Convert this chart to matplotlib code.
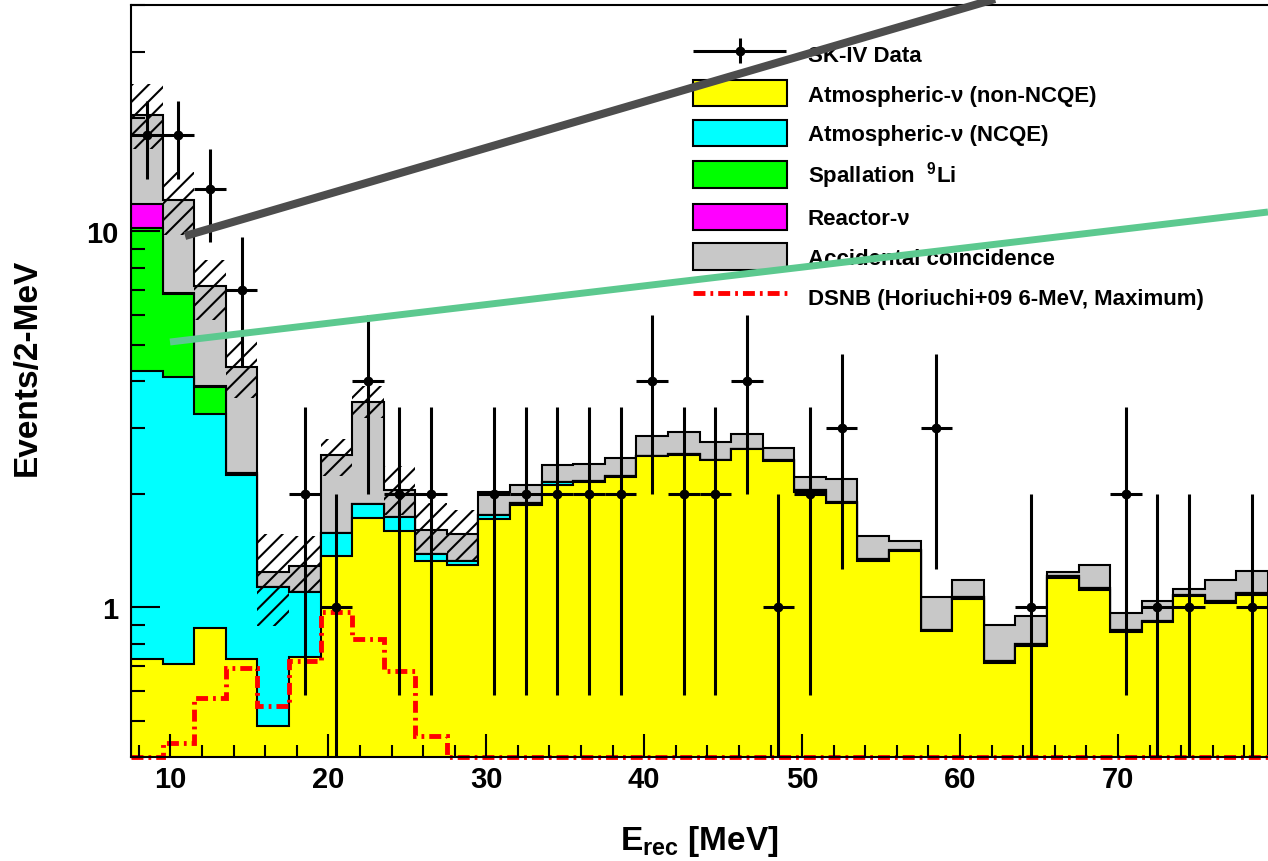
import matplotlib
matplotlib.use("Agg")
import matplotlib.pyplot as plt
import numpy as np
from matplotlib.patches import Patch
from matplotlib.lines import Line2D
from matplotlib.legend_handler import HandlerErrorbar
from matplotlib.ticker import MultipleLocator, LogLocator, NullFormatter, FormatStrFormatter

plt.rcParams['font.family'] = ['Liberation Sans', 'DejaVu Sans']
plt.rcParams['font.weight'] = 'bold'
plt.rcParams['axes.labelweight'] = 'bold'
plt.rcParams['mathtext.fontset'] = 'custom'
plt.rcParams['mathtext.rm'] = 'Liberation Sans:bold'
plt.rcParams['mathtext.it'] = 'Liberation Sans:bold'
plt.rcParams['mathtext.bf'] = 'Liberation Sans:bold'
plt.rcParams['mathtext.default'] = 'rm'
plt.rcParams['hatch.linewidth'] = 1.5
plt.rcParams['lines.scale_dashes'] = False

# 2-MeV bins from 7.5 to 79.5 MeV
bin_edges = np.arange(7.5, 79.6, 2.0)
bin_centers = 0.5 * (bin_edges[:-1] + bin_edges[1:])

# background components (events / bin), bottom of the stack first
atm_non_ncqe = np.array([0.73, 0.705, 0.88, 0.73, 0.483, 0.74, 1.37, 1.73, 1.60, 1.33, 1.30, 1.72,
                         1.87, 2.12, 2.16, 2.22, 2.52, 2.55, 2.46, 2.63, 2.45, 2.03, 1.90, 1.33,
                         1.41, 0.863, 1.05, 0.71, 0.79, 1.20, 1.11, 0.858, 0.912, 1.07, 1.03, 1.08])
atm_ncqe = np.array([3.51, 3.39, 2.38, 1.52, 0.65, 0.36, 0.21, 0.15, 0.14, 0.06, 0.03, 0.04,
                     0.03, 0.04, 0.01, 0.02, 0.01, 0.01, 0.01, 0.01, 0.01, 0.02, 0.01, 0.015,
                     0.01, 0.01, 0.015, 0.01, 0.01, 0.01, 0.015, 0.01, 0.01, 0.01, 0.01, 0.01])
spallation_li9 = np.array([5.96, 2.71, 0.60, 0.03] + [0.0] * 32)
reactor_nu = np.array([1.6, 0.05, 0.02] + [0.0] * 33)
accidental = np.array([8.6, 5.25, 3.26, 2.09, 0.11, 0.19, 0.96, 1.63, 0.31, 0.22, 0.24, 0.27,
                       0.21, 0.23, 0.24, 0.26, 0.32, 0.36, 0.29, 0.26, 0.20, 0.17, 0.28, 0.20,
                       0.08, 0.19, 0.12, 0.18, 0.15, 0.03, 0.17, 0.10, 0.12, 0.04, 0.14, 0.16])

# systematic band on the total background (first 11 bins)
band_low = np.array([16.6, 9.8, 5.8, 3.6, 0.89, 1.10, 2.24, 3.18, 1.76, 1.41, 1.33])
band_high = np.array([24.7, 14.4, 8.4, 5.1, 1.57, 1.55, 2.81, 3.87, 2.37, 1.89, 1.81])

# SK-IV observed events
data_counts = np.array([18, 18, 13, 7, 0, 2, 1, 4, 2, 2, 0, 2, 2, 2, 2, 2, 4, 2,
                        2, 4, 1, 2, 3, 0, 0, 3, 0, 0, 1, 0, 0, 2, 1, 1, 0, 1])

# DSNB expectation (values at the axis floor are drawn at 0.4)
dsnb = np.array([0.4, 0.435, 0.573, 0.689, 0.545, 0.718, 0.975, 0.822, 0.676, 0.454] + [0.4] * 26)

layer_names = ["Atmospheric-ν (non-NCQE)", "Atmospheric-ν (NCQE)", "Spallation  $^{9}$Li",
               "Reactor-ν", "Accidental coincidence"]
layer_colors = ["#ffff00", "#00ffff", "#00ff00", "#ff00ff", "#c8c8c8"]
dsnb_label = "DSNB (Horiuchi+09 6-MeV, Maximum)"
data_label = "SK-IV Data"
dsnb_dash = (0, (8.6, 3.6, 2.0, 3.6))

y_min, y_max = 0.4, 40.0

fig = plt.figure(figsize=(12.68, 8.62), dpi=100)
ax = fig.add_axes([131 / 1268, 1 - 758 / 862, 1137 / 1268, 752 / 862])
ax.set_yscale("log")

# stacked histogram, drawn from the top level down
layers = np.array([atm_non_ncqe, atm_ncqe, spallation_li9, reactor_nu, accidental])
cum = np.cumsum(layers, axis=0)
for level in range(len(layers) - 1, -1, -1):
    ax.stairs(cum[level], bin_edges, baseline=1e-3, fill=True,
              facecolor=layer_colors[level], edgecolor="black", linewidth=1.5)

# hatched uncertainty band
nb = len(band_low)
ax.bar(bin_centers[:nb], band_high - band_low, bottom=band_low, width=2.0,
       fill=False, hatch="//", edgecolor="black", linewidth=0)

# DSNB signal
ax.stairs(dsnb, bin_edges, baseline=None, color="#ff0000", linewidth=3.5,
          linestyle=dsnb_dash, clip_on=False)

# data points
ok = data_counts > 0
n_ok = data_counts[ok].astype(float)
err = np.sqrt(n_ok)
data_h = ax.errorbar(bin_centers[ok], n_ok, xerr=1.0,
                     yerr=[np.minimum(err, n_ok * 0.999), err],
                     fmt="o", color="black", ms=6, elinewidth=2.2, capsize=0)

ax.set_xlim(7.5, 79.5)
ax.set_ylim(y_min, y_max)

ax.xaxis.set_major_locator(MultipleLocator(10))
ax.xaxis.set_minor_locator(MultipleLocator(2))
ax.yaxis.set_major_locator(LogLocator(base=10, subs=(1.0,)))
ax.yaxis.set_minor_locator(LogLocator(base=10, subs=np.arange(2, 10)))
ax.yaxis.set_major_formatter(FormatStrFormatter("%g"))
ax.yaxis.set_minor_formatter(NullFormatter())

ax.tick_params(which="both", direction="in", top=False, right=False, width=1.5,
               labelsize=21)
ax.tick_params(axis="x", which="major", length=16.5, pad=6)
ax.tick_params(axis="x", which="minor", length=8.6)
ax.tick_params(axis="y", which="major", length=21, pad=9)
ax.tick_params(axis="y", which="minor", length=10)
for side in ["left", "bottom", "top"]:
    ax.spines[side].set_linewidth(1.5)
ax.spines["right"].set_visible(False)

ax.set_xlabel("E$_{\\rm rec}$ [MeV]", fontsize=24, fontweight="bold")
ax.set_ylabel("Events/2-MeV", fontsize=24, fontweight="bold")
ax.xaxis.set_label_coords(0.5, -0.088)
ax.yaxis.set_label_coords(-0.078, 0.52)

handles = [data_h] + [Patch(facecolor=c, edgecolor="black", linewidth=1.5) for c in layer_colors] + \
          [Line2D([], [], color="#ff0000", linewidth=3.5, linestyle=dsnb_dash)]
labels = [data_label] + layer_names + [dsnb_label]
ax.legend(handles, labels, loc="upper left", bbox_to_anchor=(0.494, 0.953), frameon=False,
          fontsize=16, handlelength=4.23, handleheight=1.45, handletextpad=0.95,
          labelspacing=0.6, borderpad=0, borderaxespad=0,
          handler_map={type(data_h): HandlerErrorbar(xerr_size=2.1, yerr_size=0.55)})

# overlay pointer lines
fig.add_artist(Line2D([185 / 1268, 995 / 1268], [1 - 237 / 862, 1.0],
                      color="#4d4d4d", linewidth=5.8, solid_capstyle="butt"))
fig.add_artist(Line2D([170 / 1268, 1.0], [1 - 343 / 862, 1 - 213 / 862],
                      color="#5cc98f", linewidth=5.0, solid_capstyle="butt"))

fig.savefig("out.png", dpi=100)
plt.close(fig)
